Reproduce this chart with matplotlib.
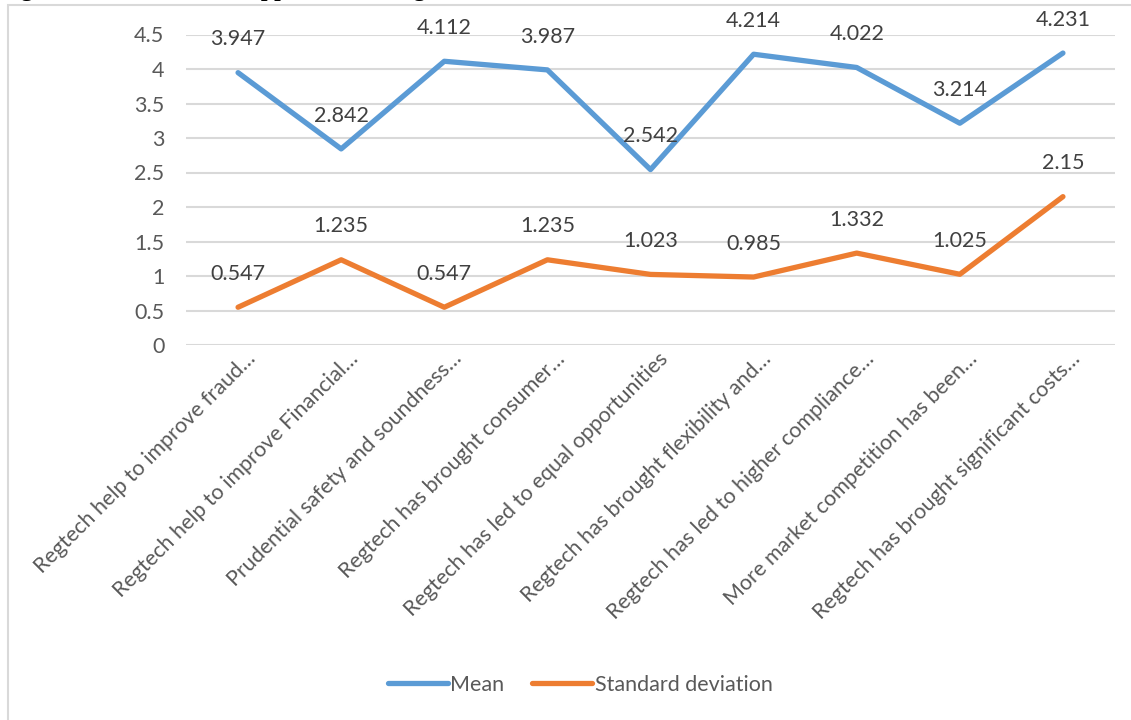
import matplotlib
matplotlib.use('Agg')
import matplotlib.pyplot as plt
import matplotlib.transforms as mtransforms
from matplotlib.patches import Rectangle

plt.rcParams['font.family'] = ['Lato', 'DejaVu Sans']

categorias = [
    'Regtech help to improve fraud…',
    'Regtech help to improve Financial…',
    'Prudential safety and soundness…',
    'Regtech has brought consumer…',
    'Regtech has led to equal opportunities',
    'Regtech has brought flexibility and…',
    'Regtech has led to higher compliance…',
    'More market competition has been…',
    'Regtech has brought significant costs…',
]
media = [3.947, 2.842, 4.112, 3.987, 2.542, 4.214, 4.022, 3.214, 4.231]
desviacion = [0.547, 1.235, 0.547, 1.235, 1.023, 0.985, 1.332, 1.025, 2.15]
yticks = [0, 0.5, 1, 1.5, 2, 2.5, 3, 3.5, 4, 4.5]

AZUL = '#5B9BD5'
NARANJA = '#ED7D31'
GRIS_TEXTO = '#595959'
GRIS_LINEA = '#D9D9D9'

fig = plt.figure(figsize=(11.31, 7.2), dpi=100)

# marco del area del grafico
fig.patches.append(Rectangle((8 / 1131, -0.05), 1.2, 1 - 5 / 720 + 0.05,
                             transform=fig.transFigure, fill=False,
                             edgecolor=GRIS_LINEA, linewidth=1.5))

# pie de figura (queda cortado en el borde superior)
fig.text(0.0, 1 + 4 / 720, 'Figure 4.11: Mean and Support of the Regtech',
         family='Liberation Serif', fontweight='bold', fontsize=17,
         ha='left', va='baseline')

ax = fig.add_axes([186.5 / 1131, 1 - 345 / 720, (1114.5 - 186.5) / 1131, (345 - 34.5) / 720])
x = list(range(len(categorias)))

ax.plot(x, media, color=AZUL, linewidth=3.8, solid_capstyle='round', label='Mean', zorder=3)
ax.plot(x, desviacion, color=NARANJA, linewidth=3.8, solid_capstyle='round',
        label='Standard deviation', zorder=3)

for xi, v in zip(x, media):
    ax.annotate(f'{v:g}', (xi, v), xytext=(0, 24), textcoords='offset points',
                ha='center', va='center', fontsize=15.5, color='#404040')
for xi, v in zip(x, desviacion):
    ax.annotate(f'{v:g}', (xi, v), xytext=(0, 24), textcoords='offset points',
                ha='center', va='center', fontsize=15.5, color='#404040')

ax.set_xlim(-0.5, len(categorias) - 0.5)
ax.set_ylim(0, 4.5)
ax.set_yticks(yticks)
ax.set_yticklabels([f'{t:g}' for t in yticks])
ax.yaxis.grid(True, color=GRIS_LINEA, linewidth=1.5)
ax.set_axisbelow(True)
for s in ax.spines.values():
    s.set_visible(False)
ax.tick_params(axis='y', length=0, pad=16, labelsize=15.5, labelcolor=GRIS_TEXTO)
ax.tick_params(axis='x', length=0, pad=4, labelsize=15.5, labelcolor=GRIS_TEXTO)
ax.set_xticks(x)
ax.set_xticklabels(categorias, rotation=45, ha='right', va='top', rotation_mode='anchor')

# corre un poco las etiquetas rotadas hacia la derecha
desplazamiento = mtransforms.ScaledTranslation(7 / 100, 2 / 100, fig.dpi_scale_trans)
for lbl in ax.get_xticklabels():
    lbl.set_transform(lbl.get_transform() + desplazamiento)

leg = fig.legend(loc='center', bbox_to_anchor=(580 / 1131, 1 - 685 / 720), ncol=2,
                 frameon=False, fontsize=15.5, handlelength=2.8, columnspacing=1.3,
                 handletextpad=0.1)
for t in leg.get_texts():
    t.set_color(GRIS_TEXTO)

fig.savefig('out.png', dpi=100)
